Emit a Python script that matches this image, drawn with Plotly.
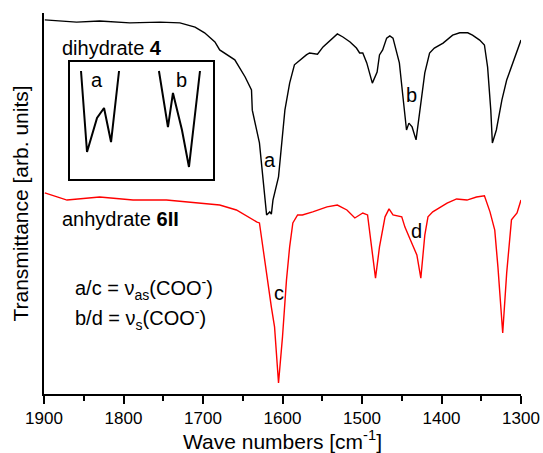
import plotly.graph_objects as go

# Dihydrate 4 (black) spectrum: wave number [cm-1], transmittance [arb. units]
dihydrate_wn = [1899, 1880, 1859, 1830, 1792, 1754, 1729, 1710, 1698, 1685, 1679, 1660, 1647, 1639,
                1638, 1629, 1625, 1622, 1620, 1616, 1614, 1612, 1605, 1597, 1591, 1585, 1578, 1570,
                1566, 1556, 1549, 1544, 1537, 1531, 1524, 1515, 1507, 1503, 1499, 1494, 1487, 1481,
                1478, 1474, 1469, 1465, 1461, 1456, 1453, 1449, 1445, 1444, 1441, 1437, 1432, 1427,
                1421, 1415, 1409, 1398, 1386, 1377, 1367, 1361, 1352, 1346, 1342, 1338, 1336, 1331,
                1324, 1318, 1312, 1305, 1300]
dihydrate_T = [98.2, 97.9, 97.6, 97.9, 97.4, 97.6, 97.4, 96.3, 94.8, 92.4, 90.3, 87.7, 83.2, 79.8,
               74.5, 65.9, 58.0, 50.9, 47.0, 47.8, 47.2, 50.9, 57.0, 74.5, 81.6, 86.4, 87.7, 89.0,
               89.5, 89.2, 91.1, 92.1, 93.4, 94.5, 93.7, 92.4, 90.8, 89.5, 89.5, 86.9, 81.6, 84.5,
               89.0, 90.3, 93.4, 94.0, 93.4, 89.5, 86.9, 79.0, 69.8, 69.3, 71.1, 70.1, 66.7, 74.5,
               84.3, 89.5, 90.8, 92.1, 94.2, 94.8, 94.8, 94.2, 92.9, 91.6, 85.8, 74.5, 65.9, 69.3,
               77.2, 82.4, 85.8, 89.5, 92.9]

# Anhydrate 6II (red) spectrum
anhydrate_wn = [1899, 1871, 1830, 1788, 1746, 1704, 1679, 1658, 1638, 1632, 1629, 1625, 1620, 1614,
                1610, 1605, 1600, 1595, 1591, 1587, 1581, 1575, 1562, 1544, 1531, 1519, 1509, 1499,
                1493, 1487, 1483, 1478, 1471, 1466, 1461, 1450, 1446, 1440, 1431, 1426, 1421, 1417,
                1411, 1393, 1381, 1368, 1356, 1346, 1339, 1333, 1329, 1323, 1318, 1312, 1305, 1300]
anhydrate_T = [52.8, 50.9, 51.7, 50.9, 50.9, 50.1, 49.6, 48.3, 45.7, 45.1, 44.9, 38.6, 31.2, 22.8,
               17.6, 2.9, 15.0, 29.9, 38.6, 44.9, 47.0, 47.0, 47.8, 49.1, 49.6, 48.3, 46.2, 47.5,
               47.0, 37.0, 30.4, 38.6, 46.5, 48.6, 47.0, 46.5, 43.8, 40.9, 36.5, 30.4, 41.7, 46.5,
               47.8, 50.1, 51.2, 50.9, 51.7, 52.0, 47.8, 43.0, 33.3, 16.0, 31.8, 45.7, 47.5, 50.9]

# Inset: enlarged bands a and b (relative units)
inset_a_x = [7.7, 11.9, 18.9, 23.8, 28.7, 34.3]
inset_a_y = [92.3, 23.1, 52.1, 60.7, 31.6, 92.3]
inset_b_x = [62.2, 68.5, 72.0, 78.3, 83.2, 90.9]
inset_b_y = [92.3, 44.4, 73.5, 41.9, 10.3, 92.3]

x_major = [1900, 1800, 1700, 1600, 1500, 1400, 1300]
x_minor = [1850, 1750, 1650, 1550, 1450, 1350]

FONT = "Liberation Sans, Arial, sans-serif"

fig = go.Figure()
fig.add_trace(go.Scatter(x=dihydrate_wn, y=dihydrate_T, mode="lines",
                         line=dict(color="black", width=1.4), showlegend=False))
fig.add_trace(go.Scatter(x=anhydrate_wn, y=anhydrate_T, mode="lines",
                         line=dict(color="#ff0000", width=1.4), showlegend=False))
fig.add_trace(go.Scatter(x=inset_a_x, y=inset_a_y, mode="lines", xaxis="x2", yaxis="y2",
                         line=dict(color="black", width=2), showlegend=False))
fig.add_trace(go.Scatter(x=inset_b_x, y=inset_b_y, mode="lines", xaxis="x2", yaxis="y2",
                         line=dict(color="black", width=2), showlegend=False))

ann = []
def lab(text, x, y, xref="x", yref="y", xanchor="center", size=20):
    ann.append(dict(text=text, x=x, y=y, xref=xref, yref=yref, xanchor=xanchor, yanchor="middle",
                    showarrow=False, font=dict(size=size, color="black", family=FONT)))

lab("a", 1616, 61.4)
lab("b", 1437.5, 78.5)
lab("c", 1605, 26.5)
lab("d", 1431, 42.8)
lab("dihydrate <b>4</b>", 1880, 90.8, xanchor="left")
lab("anhydrate <b>6II</b>", 1880, 45.9, xanchor="left")
lab("a/c = ν<sub>as</sub>(COO<sup>-</sup>)", 1863, 27.8, xanchor="left")
lab("b/d = ν<sub>s</sub>(COO<sup>-</sup>)", 1863, 19.9, xanchor="left")
lab("a", 18.9, 84.6, xref="x2", yref="y2")
lab("b", 78.3, 84.6, xref="x2", yref="y2")

fig.update_layout(
    width=543, height=453,
    margin=dict(l=44, r=22, t=13, b=59, autoexpand=False),
    paper_bgcolor="white", plot_bgcolor="white",
    font=dict(family=FONT, color="black"),
    annotations=ann,
    xaxis=dict(range=[1900, 1300], showgrid=False, zeroline=False, automargin=False,
               showline=True, linecolor="black", linewidth=2,
               ticks="outside", ticklen=8, tickwidth=2, tickcolor="black",
               tickvals=x_major, ticktext=[str(v) for v in x_major],
               tickfont=dict(size=17, family=FONT),
               minor=dict(tickvals=x_minor, ticks="outside", ticklen=5, tickwidth=2, tickcolor="black"),
               title=dict(text="Wave numbers [cm<sup>-1</sup>]", font=dict(size=21, family=FONT), standoff=4)),
    yaxis=dict(range=[0, 100], showgrid=False, zeroline=False, automargin=False,
               showline=True, linecolor="black", linewidth=2,
               ticks="", showticklabels=False,
               title=dict(text="Transmittance [arb. units]", font=dict(size=21, family=FONT), standoff=8)),
    xaxis2=dict(domain=[0.0545, 0.3543], range=[0, 100], anchor="y2", automargin=False,
                showgrid=False, zeroline=False, showticklabels=False, ticks="",
                showline=True, mirror=True, linecolor="black", linewidth=1.5),
    yaxis2=dict(domain=[0.5643, 0.8714], range=[0, 100], anchor="x2", automargin=False,
                showgrid=False, zeroline=False, showticklabels=False, ticks="",
                showline=True, mirror=True, linecolor="black", linewidth=1.5),
)

fig.write_html("out.html")
